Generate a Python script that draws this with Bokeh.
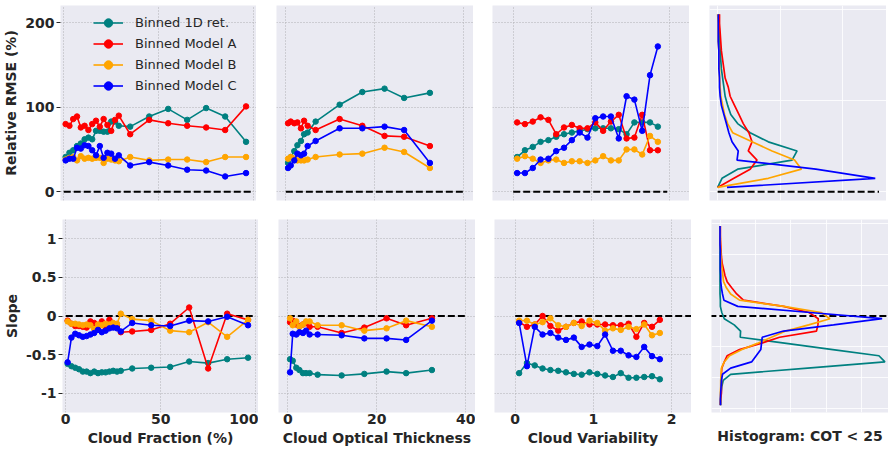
from bokeh.plotting import figure
from bokeh.models import FixedTicker, Range1d
from bokeh.layouts import column, row
from bokeh.embed import file_html
from bokeh.resources import INLINE

# ---------------- data ----------------
series_names = ["Binned 1D ret.", "Binned Model A", "Binned Model B", "Binned Model C"]
series_colors = ["#008080", "#ff0000", "#ffa500", "#0000ff"]

cf_bins = [1, 3, 5, 7, 9, 11, 13, 15, 17, 19, 21, 23, 25, 27, 29, 35, 45, 55, 65, 75, 85, 96]
rmse_cf_1d = [41, 46, 49, 54, 57, 62, 64, 62, 72, 72, 71, 71, 83, 83, 78, 77, 89, 98, 85, 99, 89, 59]
rmse_cf_a = [80, 78, 86, 89, 76, 78, 73, 80, 84, 77, 86, 79, 72, 85, 90, 68, 85, 81, 78, 76, 73, 101]
rmse_cf_b = [38, 40, 41, 37, 42, 39, 40, 39, 40, 40, 34, 39, 38, 37, 36, 41, 37, 38, 38, 35, 41, 41]
rmse_cf_c = [37, 39, 39, 52, 51, 55, 54, 49, 43, 54, 40, 46, 45, 39, 43, 31, 35, 31, 26, 25, 18, 22]
slope_cf_1d = [-0.62, -0.65, -0.67, -0.69, -0.72, -0.72, -0.74, -0.72, -0.74, -0.73, -0.73, -0.72, -0.71, -0.72, -0.71, -0.68, -0.67, -0.66, -0.59, -0.61, -0.56, -0.54]
slope_cf_a = [-0.06, -0.10, -0.13, -0.13, -0.14, -0.15, -0.07, -0.09, -0.15, -0.07, -0.15, -0.05, -0.10, -0.12, -0.21, -0.20, -0.18, -0.10, 0.11, -0.68, 0.03, -0.05]
slope_cf_b = [-0.07, -0.10, -0.10, -0.11, -0.12, -0.11, -0.12, -0.17, -0.11, -0.12, -0.10, -0.11, -0.09, -0.10, 0.03, -0.04, -0.06, -0.19, -0.21, -0.08, -0.27, -0.05]
slope_cf_c = [-0.60, -0.28, -0.23, -0.25, -0.27, -0.26, -0.24, -0.22, -0.18, -0.21, -0.19, -0.16, -0.15, -0.16, -0.20, -0.09, -0.12, -0.13, -0.06, -0.07, -0.01, -0.12]

cot_bins = [0.5, 1.1, 1.9, 2.6, 3.4, 4.1, 4.9, 6.7, 12.1, 17.2, 22.2, 26.6, 32.4]
rmse_cot_1d = [34, 41, 48, 55, 60, 68, 70, 83, 103, 118, 122, 111, 117]
rmse_cot_a = [81, 83, 81, 82, 75, 84, 78, 73, 86, 78, 66, 65, 54]
rmse_cot_b = [39, 41, 39, 37, 37, 37, 38, 41, 44, 45, 52, 47, 28]
rmse_cot_c = [28, 31, 37, 45, 43, 45, 54, 60, 75, 75, 77, 73, 34]
slope_cot_1d = [-0.56, -0.58, -0.67, -0.70, -0.74, -0.74, -0.74, -0.76, -0.77, -0.75, -0.72, -0.74, -0.70]
slope_cot_a = [-0.08, -0.06, -0.11, -0.13, -0.11, -0.09, -0.14, -0.14, -0.22, -0.15, -0.03, -0.12, -0.03]
slope_cot_b = [-0.03, -0.12, -0.07, -0.14, -0.11, -0.07, -0.07, -0.12, -0.12, -0.19, -0.16, -0.06, -0.14]
slope_cot_c = [-0.73, -0.23, -0.24, -0.21, -0.22, -0.19, -0.24, -0.24, -0.25, -0.29, -0.29, -0.31, -0.06]

var_bins = [0.05, 0.15, 0.25, 0.35, 0.45, 0.55, 0.65, 0.75, 0.85, 0.95, 1.05, 1.15, 1.25, 1.35, 1.45, 1.55, 1.65, 1.75, 1.85]
rmse_var_1d = [41, 49, 53, 59, 61, 65, 68, 70, 72, 74, 75, 75, 75, 74, 68, 82, 82, 82, 77]
rmse_var_a = [82, 80, 83, 88, 85, 68, 76, 79, 75, 75, 82, 72, 83, 91, 63, 64, 91, 49, 49]
rmse_var_b = [39, 42, 39, 34, 37, 38, 34, 36, 36, 34, 37, 42, 37, 37, 50, 50, 44, 66, 59]
rmse_var_c = [22, 22, 28, 38, 39, 48, 52, 61, 70, 64, 87, 89, 89, 63, 113, 109, 72, 138, 172]
slope_var_1d = [-0.74, -0.61, -0.64, -0.68, -0.70, -0.71, -0.73, -0.75, -0.76, -0.73, -0.75, -0.77, -0.79, -0.74, -0.80, -0.80, -0.79, -0.78, -0.82]
slope_var_a = [-0.08, -0.14, -0.11, 0.00, -0.13, -0.19, -0.14, -0.09, -0.07, -0.11, -0.11, -0.11, -0.12, -0.12, -0.10, -0.27, -0.09, -0.14, -0.05]
slope_var_b = [-0.06, -0.06, -0.11, -0.08, -0.03, -0.12, -0.14, -0.09, -0.13, -0.06, -0.09, -0.19, -0.16, -0.18, -0.14, -0.17, -0.11, -0.25, -0.22]
slope_var_c = [-0.09, -0.65, -0.14, -0.24, -0.22, -0.28, -0.31, -0.28, -0.40, -0.37, -0.39, -0.24, -0.45, -0.45, -0.51, -0.53, -0.40, -0.52, -0.56]

rmse_hist_bins = [5.0, 15.8, 26.6, 37.4, 48.2, 59.0, 69.8, 80.6, 91.4, 102.2, 113.0, 123.8, 134.6, 145.4, 156.2, 167.0, 177.8, 188.6, 199.4, 210.2]
hist_rmse_1d = [0.0, 0.07, 0.32, 1.19, 1.27, 0.81, 0.52, 0.32, 0.21, 0.16, 0.12, 0.10, 0.08, 0.06, 0.05, 0.04, 0.03, 0.03, 0.02, 0.02]
hist_rmse_a = [0.0, 0.26, 0.52, 0.63, 0.49, 0.55, 0.50, 0.41, 0.34, 0.27, 0.20, 0.17, 0.12, 0.10, 0.08, 0.06, 0.05, 0.04, 0.03, 0.03]
hist_rmse_b = [0.0, 0.81, 1.34, 1.23, 0.87, 0.55, 0.24, 0.16, 0.11, 0.08, 0.05, 0.04, 0.03, 0.03, 0.02, 0.02, 0.01, 0.01, 0.01, 0.0]
hist_rmse_c = [0.15, 2.52, 1.57, 0.31, 0.33, 0.23, 0.18, 0.14, 0.10, 0.06, 0.04, 0.03, 0.03, 0.02, 0.02, 0.02, 0.01, 0.01, 0.01, 0.01]

slope_hist_bins = [1.165, 1.085, 1.005, 0.925, 0.845, 0.765, 0.685, 0.605, 0.525, 0.445, 0.365, 0.285, 0.205, 0.125, 0.045,
                   -0.035, -0.115, -0.195, -0.275, -0.355, -0.435, -0.515, -0.595, -0.675, -0.755, -0.835, -0.915, -0.995, -1.075, -1.155]
hist_slope_1d = [0.0, 0.0, 0.0, 0.0, 0.0, 0.0, 0.0, 0.0, 0.0, 0.0, 0.0, 0.0, 0.01, 0.01, 0.05,
                 0.12, 0.40, 0.58, 0.57, 1.87, 3.18, 4.48, 4.65, 2.47, 0.30, 0.09, 0.05, 0.03, 0.02, 0.02]
hist_slope_a = [0.01, 0.01, 0.01, 0.02, 0.03, 0.04, 0.06, 0.10, 0.14, 0.20, 0.33, 0.47, 0.66, 1.79, 2.51,
                2.77, 2.76, 2.72, 1.68, 1.15, 0.55, 0.20, 0.12, 0.05, 0.04, 0.04, 0.04, 0.04, 0.02, 0.01]
hist_slope_b = [0.0, 0.0, 0.01, 0.01, 0.02, 0.03, 0.04, 0.06, 0.08, 0.10, 0.18, 0.30, 0.55, 1.80, 2.85,
                3.10, 2.50, 1.85, 1.45, 1.05, 0.62, 0.27, 0.12, 0.04, 0.03, 0.02, 0.02, 0.01, 0.01, 0.0]
hist_slope_c = [0.0, 0.0, 0.0, 0.0, 0.01, 0.01, 0.01, 0.01, 0.02, 0.02, 0.04, 0.07, 0.11, 0.50, 2.54,
                4.57, 3.20, 1.79, 1.19, 1.17, 1.15, 1.02, 0.89, 0.30, 0.07, 0.04, 0.03, 0.02, 0.01, 0.01]

cf_ticks = [0, 50, 100]
cot_ticks = [0, 20, 40]
var_ticks = [0, 1, 2]
rmse_ticks = [0, 100, 200]
slope_ticks = [-1, -0.5, 0, 0.5, 1]
slope_tick_labels = {-1: "-1", -0.5: "-0.5", 0: "0", 0.5: "0.5", 1: "1"}

# ---------------- style ----------------
FONT = "DejaVu Sans"
TXT = "#262626"
BG = "#eaeaf2"
GRID = "#b0b0b4"
TOP_H = 195
BOT_H = 193
GAP = 19


def make_fig(xr, yr, frame_w, left, top_row, has_y):
    p = figure(x_range=Range1d(*xr), y_range=Range1d(*yr),
               frame_width=frame_w, frame_height=TOP_H if top_row else BOT_H,
               x_axis_location=None if top_row else "below",
               y_axis_location="left" if has_y else None,
               output_backend="svg", toolbar_location=None,
               min_border_left=left, min_border_right=0,
               min_border_top=5 if top_row else 0,
               min_border_bottom=GAP if top_row else 0,
               background_fill_color=BG, border_fill_color="white",
               outline_line_color=None)
    for ax in p.axis:
        ax.axis_line_color = None
        ax.minor_tick_line_color = None
        ax.major_tick_in = 0
        ax.major_tick_line_color = TXT
        ax.major_label_text_font = FONT
        ax.major_label_text_font_style = "bold"
        ax.major_label_text_font_size = "14px"
        ax.major_label_text_color = TXT
        ax.axis_label_text_font = FONT
        ax.axis_label_text_font_style = "bold"
        ax.axis_label_text_font_size = "14px"
        ax.axis_label_text_color = TXT
        ax.axis_label_standoff = 3
        ax.major_label_standoff = 1
    for ax in p.xaxis:
        ax.major_tick_out = 0
    for ax in p.yaxis:
        ax.major_tick_out = 4
        ax.major_label_standoff = 2
        ax.axis_label_standoff = 3
    return p


def style_dotted_grid(p, xt, yt):
    p.xgrid.ticker = FixedTicker(ticks=xt)
    p.ygrid.ticker = FixedTicker(ticks=yt)
    for g in (p.xgrid, p.ygrid):
        g.grid_line_color = GRID
        g.grid_line_dash = "1 2"
        g.grid_line_width = 1


def style_white_grid(p, xt, yt):
    p.xgrid.ticker = FixedTicker(ticks=xt)
    p.ygrid.ticker = FixedTicker(ticks=yt)
    for g in (p.xgrid, p.ygrid):
        g.grid_line_color = "white"
        g.grid_line_width = 1
        g.grid_line_alpha = 0.8


def zero_line(p, x0, x1):
    p.segment(x0=[x0], y0=[0], x1=[x1], y1=[0], line_color="black",
              line_width=2, line_dash="7 3")


def add_series(p, x, ys, legend=False):
    for name, col, y in zip(series_names, series_colors, ys):
        kw = {"legend_label": name} if legend else {}
        p.line(x, y, line_color=col, line_width=1.6, **kw)
        p.scatter(x, y, size=5.5, fill_color=col, line_color=col, **kw)


def add_hist(p, bins, ys):
    for col, v in zip(series_colors, ys):
        p.line(v, bins, line_color=col, line_width=1.7)


RMSE_R = (-10.5, 220.5)
SLOPE_R = (-1.25, 1.25)
CF_R = (-1.7, 101.5)
COT_R = (-2.1, 42.2)
VAR_R = (-0.265, 2.255)
HTOP_R = (-0.13, 2.70)
HBOT_R = (-0.24, 4.75)

# ---------------- top row ----------------
t1 = make_fig(CF_R, RMSE_R, 196, 54, True, True)
t1.yaxis.ticker = FixedTicker(ticks=rmse_ticks)
t1.yaxis.axis_label = "Relative RMSE (%)"
style_dotted_grid(t1, cf_ticks, rmse_ticks)
zero_line(t1, 0, 100)
add_series(t1, cf_bins, [rmse_cf_1d, rmse_cf_a, rmse_cf_b, rmse_cf_c], legend=True)
lg = t1.legend[0]
lg.location = (33, 104)
lg.background_fill_alpha = 0
lg.border_line_color = None
lg.label_text_font = FONT
lg.label_text_font_size = "13px"
lg.label_text_color = TXT
lg.glyph_width = 30
lg.glyph_height = 21
lg.label_height = 21
lg.spacing = 0
lg.padding = 0
lg.margin = 0
lg.label_standoff = 12

t2 = make_fig(COT_R, RMSE_R, 197, 20, True, False)
style_dotted_grid(t2, cot_ticks, rmse_ticks)
zero_line(t2, 0, 40)
add_series(t2, cot_bins, [rmse_cot_1d, rmse_cot_a, rmse_cot_b, rmse_cot_c])

t3 = make_fig(VAR_R, RMSE_R, 197, 19, True, False)
style_dotted_grid(t3, var_ticks, rmse_ticks)
zero_line(t3, 0, 1.97)
add_series(t3, var_bins, [rmse_var_1d, rmse_var_a, rmse_var_b, rmse_var_c])

t4 = make_fig(HTOP_R, RMSE_R, 177, 20, True, False)
style_white_grid(t4, [0, 1, 2], [0, 108, 216])
zero_line(t4, 0, 2.58)
add_hist(t4, rmse_hist_bins, [hist_rmse_1d, hist_rmse_a, hist_rmse_b, hist_rmse_c])

# ---------------- bottom row ----------------
b1 = make_fig(CF_R, SLOPE_R, 196, 54, False, True)
b1.yaxis.ticker = FixedTicker(ticks=slope_ticks)
b1.yaxis.major_label_overrides = slope_tick_labels
b1.yaxis.axis_label = "Slope"
b1.xaxis.ticker = FixedTicker(ticks=cf_ticks)
b1.xaxis.axis_label = "Cloud Fraction (%)"
style_dotted_grid(b1, cf_ticks, slope_ticks)
zero_line(b1, 0, 100)
add_series(b1, cf_bins, [slope_cf_1d, slope_cf_a, slope_cf_b, slope_cf_c])

b2 = make_fig(COT_R, SLOPE_R, 197, 20, False, False)
b2.xaxis.ticker = FixedTicker(ticks=cot_ticks)
b2.xaxis.axis_label = "Cloud Optical Thickness"
style_dotted_grid(b2, cot_ticks, slope_ticks)
zero_line(b2, 0, 40)
add_series(b2, cot_bins, [slope_cot_1d, slope_cot_a, slope_cot_b, slope_cot_c])

b3 = make_fig(VAR_R, SLOPE_R, 197, 19, False, False)
b3.xaxis.ticker = FixedTicker(ticks=var_ticks)
b3.xaxis.axis_label = "Cloud Variability"
style_dotted_grid(b3, var_ticks, slope_ticks)
zero_line(b3, 0, 2.3)
add_series(b3, var_bins, [slope_var_1d, slope_var_a, slope_var_b, slope_var_c])

b4 = make_fig(HBOT_R, SLOPE_R, 177, 20, False, False)
b4.xaxis.ticker = FixedTicker(ticks=[])
b4.xaxis.axis_label = "Histogram: COT < 25"
b4.xaxis.axis_label_standoff = 15
style_white_grid(b4, [0, 1, 2, 3, 4], [-1.2, -0.8, -0.4, 0, 0.4, 0.8, 1.2])
zero_line(b4, -0.3, 5)
add_hist(b4, slope_hist_bins, [hist_slope_1d, hist_slope_a, hist_slope_b, hist_slope_c])

layout = column(row(t1, t2, t3, t4, spacing=0), row(b1, b2, b3, b4, spacing=0), spacing=0)

open("out.html", "w").write(file_html(layout, INLINE))
